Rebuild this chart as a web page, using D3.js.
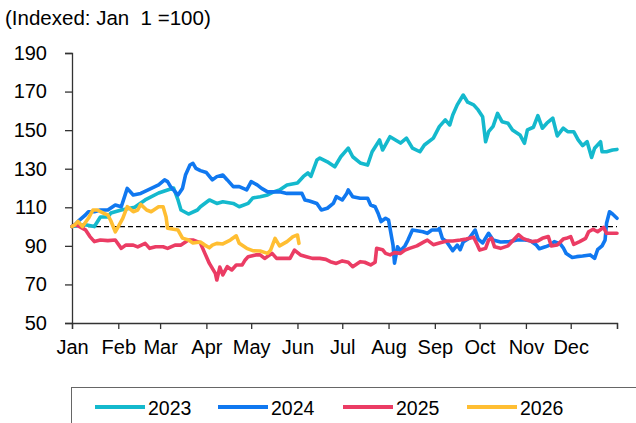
<!DOCTYPE html>
<html>
<head>
<meta charset="utf-8">
<script src="https://cdn.jsdelivr.net/npm/d3@7"></script>
<style>
  html, body { margin: 0; padding: 0; background: #fff; }
  svg { display: block; font-family: "Liberation Sans", Arial, sans-serif; }
</style>
</head>
<body>
<script>
// Day-of-year positions (0 = Jan 1) and index values
const days2023 = [0, 9, 15, 19, 24, 26, 33, 42, 49, 58, 64, 68, 69, 71, 73, 78, 84, 86, 92, 97, 101, 108, 112, 118, 121, 126, 131, 135, 139, 144, 151, 155, 158, 160, 164, 166, 171, 176, 180, 185, 188, 193, 198, 201, 206, 208, 213, 220, 224, 228, 233, 236, 242, 246, 250, 253, 255, 258, 262, 265, 269, 272, 275, 277, 279, 282, 285, 288, 292, 295, 300, 303, 305, 309, 312, 315, 318, 322, 325, 329, 332, 336, 339, 342, 345, 348, 350, 354, 355, 358, 362, 365];
const idx2023 = [100, 101, 100, 105, 105, 107, 108.6, 110, 113.8, 117.4, 119, 120, 118, 113.8, 108.6, 106.5, 108.6, 110.3, 113.8, 112, 112.9, 112, 110.3, 112, 114.8, 115.5, 116.4, 118, 119, 121.6, 122.6, 126, 127.8, 126, 134.5, 135.5, 133.6, 131, 136.2, 140.7, 136.2, 133, 131.9, 138.8, 144.9, 139.7, 146.6, 143.3, 145.9, 140.7, 138.8, 142.3, 145.9, 151.8, 155.3, 152.7, 157.9, 163.1, 168.2, 164.5, 163.1, 160.5, 157, 144, 149.2, 152, 158.7, 154.4, 153.6, 150.1, 147.5, 143.2, 150.1, 151.5, 157.5, 151, 153.6, 156.2, 147, 151, 149.2, 149.2, 145, 142, 144, 135.8, 140.6, 144, 138.8, 138.8, 139.7, 140];

const days2024 = [0, 2, 5, 9, 11, 15, 19, 24, 29, 33, 37, 41, 46, 51, 58, 62, 64, 66, 71, 74, 76, 79, 81, 83, 86, 90, 94, 97, 101, 104, 108, 112, 117, 120, 124, 127, 131, 135, 139, 144, 148, 154, 156, 159, 164, 167, 171, 175, 177, 181, 184, 185, 188, 193, 198, 200, 203, 205, 207, 210, 212, 214, 215, 216, 218, 220, 223, 225, 228, 231, 235, 238, 241, 245, 246, 248, 251, 255, 258, 260, 262, 266, 270, 272, 275, 279, 282, 287, 293, 298, 302, 307, 311, 313, 317, 320, 323, 327, 329, 331, 335, 338, 342, 347, 350, 352, 355, 357, 358, 360, 362, 365];
const idx2024 = [100, 101, 103.4, 106, 107.7, 107.7, 108.6, 108.6, 111.2, 110.3, 119.8, 116.4, 117.2, 119, 121.6, 124.2, 123.3, 120.7, 116.4, 119.8, 126.7, 131.9, 132.8, 130.2, 129, 128, 124.2, 125.9, 126.7, 124.2, 120.7, 120.7, 119, 123.3, 121.6, 119.8, 118, 118, 118, 117.2, 117.2, 117.2, 113.8, 113.3, 112, 108.6, 109.5, 112, 115.5, 113.8, 117.2, 119, 115.5, 114.7, 114.7, 111.2, 110.3, 106.9, 102.6, 104.3, 103.4, 94.7, 90.4, 81, 89.5, 87.5, 90, 93, 98.2, 97.8, 97.3, 96.5, 98.2, 98.2, 99, 93.9, 92, 87.5, 90.4, 88, 92, 93.9, 98.2, 93.5, 91.5, 96.5, 93, 92, 92.2, 93, 93.2, 92.6, 90.4, 88.5, 89.5, 90.4, 92.2, 91, 89, 86, 84, 84.4, 84.7, 85.3, 83.5, 88, 90, 93, 101.7, 107.7, 106.5, 104.3];

const days2025 = [0, 2, 5, 9, 12, 15, 19, 24, 29, 33, 36, 41, 44, 49, 52, 56, 61, 64, 69, 73, 78, 81, 84, 86, 89, 92, 96, 97, 99, 101, 104, 107, 110, 114, 116, 118, 123, 126, 129, 134, 137, 141, 146, 149, 153, 157, 161, 166, 170, 173, 177, 181, 185, 188, 193, 196, 200, 203, 204, 208, 210, 213, 216, 220, 223, 226, 231, 236, 238, 242, 246, 251, 255, 260, 264, 269, 271, 273, 277, 279, 281, 283, 287, 292, 295, 299, 302, 305, 308, 312, 315, 319, 321, 325, 329, 331, 334, 336, 340, 344, 346, 349, 352, 356, 358, 365];
const idx2025 = [100, 101, 100, 98.3, 94.8, 92.2, 93, 92.7, 93, 88.7, 90.4, 90.4, 89.5, 91.3, 88.7, 89.5, 89.5, 88.7, 90.4, 90.4, 93, 93, 92.2, 91.5, 86.1, 80.9, 75.7, 72.3, 79, 74.9, 79.2, 77.5, 80.1, 80.1, 82.7, 84.4, 85.3, 85.3, 83.5, 86.1, 83.5, 83.5, 83.5, 87.8, 85.3, 84.4, 83.5, 83.5, 83, 81.8, 80.9, 82.2, 81.5, 79.2, 81.8, 81.5, 80.1, 81.5, 88.7, 88, 86.1, 85.3, 86.5, 86.1, 87.8, 88.7, 90, 92.2, 93, 90.6, 91.5, 92.5, 92.5, 93, 93.5, 94.5, 91.3, 87.8, 88.7, 93, 94, 89.5, 88.7, 90, 92.5, 95.8, 93.9, 93, 92.2, 92.6, 93.9, 94.8, 90, 90.4, 93.5, 93.9, 94.8, 90.8, 92.2, 93.9, 97.3, 98.6, 97.3, 99.6, 96.5, 96.5];

const days2026 = [0, 2, 4, 7, 11, 14, 17, 21, 24, 26, 29, 31, 34, 37, 41, 44, 46, 50, 53, 58, 61, 63, 64, 68, 71, 74, 78, 81, 86, 89, 92, 94, 97, 101, 106, 110, 112, 117, 121, 126, 131, 133, 136, 139, 144, 148, 151, 152];
const idx2026 = [100, 101, 102.7, 100, 104.3, 108.6, 108.6, 107, 106, 103, 97.3, 100, 104.3, 110.3, 107.7, 108.6, 111.5, 108.6, 107.7, 110.3, 110.3, 105, 99.1, 98.6, 98.2, 94, 93, 91.5, 92, 90.4, 89, 90.4, 91.3, 91, 93, 95.2, 91.3, 88.7, 87.5, 87.3, 86.1, 87.8, 93.9, 90, 92.2, 94.8, 95.6, 91.3];

// Axis ticks
const monthStarts = [0, 31, 59, 90, 120, 151, 181, 212, 243, 273, 304, 334, 365];
const monthLabels = ["Jan", "Feb", "Mar", "Apr", "May", "Jun", "Jul", "Aug", "Sep", "Oct", "Nov", "Dec"];
const yTicks = [50, 70, 90, 110, 130, 150, 170, 190];
const baseline = 100;

const seriesNames = ["2023", "2024", "2025", "2026"];
const seriesColors = ["#14b9cd", "#1078f0", "#eb3c64", "#ffbe32"];

const series = [
  { name: seriesNames[0], color: seriesColors[0], pts: days2023.map((d, i) => [d, idx2023[i]]) },
  { name: seriesNames[1], color: seriesColors[1], pts: days2024.map((d, i) => [d, idx2024[i]]) },
  { name: seriesNames[2], color: seriesColors[2], pts: days2025.map((d, i) => [d, idx2025[i]]) },
  { name: seriesNames[3], color: seriesColors[3], pts: days2026.map((d, i) => [d, idx2026[i]]) }
];

const width = 636, height = 423;
const svg = d3.select("body").append("svg")
  .attr("width", width)
  .attr("height", height);

const x = d3.scaleLinear().domain([0, 365]).range([72, 617]);
const y = d3.scaleLinear().domain([50, 190]).range([323, 53]);

// Unit caption
svg.append("text")
  .attr("x", 5)
  .attr("y", 25)
  .attr("font-size", "20.5px")
  .attr("fill", "#000")
  .attr("xml:space", "preserve")
  .text("(Indexed: Jan  1 =100)");

// Y axis
const yAxis = svg.append("g")
  .attr("transform", "translate(72,0)")
  .call(d3.axisLeft(y).tickValues(yTicks).tickSize(7).tickPadding(18));
yAxis.selectAll("text").attr("font-size", "20px").attr("fill", "#000").attr("font-family", "Liberation Sans, Arial, sans-serif");

// X axis with month-start ticks, labels centred on the ticks
const xAxis = svg.append("g")
  .attr("transform", "translate(0,323)")
  .call(d3.axisBottom(x).tickValues(monthStarts).tickSize(6).tickPadding(11)
    .tickFormat((d, i) => monthLabels[i] || ""));
xAxis.selectAll("text").attr("font-size", "20px").attr("fill", "#000").attr("font-family", "Liberation Sans, Arial, sans-serif");

svg.selectAll(".domain, .tick line").attr("stroke", "#333").attr("stroke-width", 1.3);

// Dashed reference line at 100
svg.append("line")
  .attr("x1", x(0)).attr("x2", x(365))
  .attr("y1", y(baseline)).attr("y2", y(baseline))
  .attr("stroke", "#000")
  .attr("stroke-width", 1.3)
  .attr("stroke-dasharray", "5,3");

// Series lines
const line = d3.line()
  .x(d => x(d[0]))
  .y(d => y(d[1]));

svg.selectAll("path.series")
  .data(series)
  .enter().append("path")
  .attr("class", "series")
  .attr("d", d => line(d.pts))
  .attr("fill", "none")
  .attr("stroke", d => d.color)
  .attr("stroke-width", 3.6)
  .attr("stroke-linejoin", "round")
  .attr("stroke-linecap", "round");

// Legend box (runs off the right and bottom edges)
svg.append("rect")
  .attr("x", 71.5).attr("y", 387.5)
  .attr("width", 600).attr("height", 60)
  .attr("fill", "none")
  .attr("stroke", "#666")
  .attr("stroke-width", 1);

const legendX = [95, 218, 343, 467];
const legend = svg.selectAll("g.legend")
  .data(series)
  .enter().append("g")
  .attr("class", "legend")
  .attr("transform", (d, i) => `translate(${legendX[i]},407)`);

legend.append("line")
  .attr("x1", 0).attr("x2", 50)
  .attr("stroke", d => d.color)
  .attr("stroke-width", 4);

legend.append("text")
  .attr("x", 53)
  .attr("y", 8)
  .attr("font-size", "19.5px")
  .attr("fill", "#000")
  .text(d => d.name);
</script>
</body>
</html>
